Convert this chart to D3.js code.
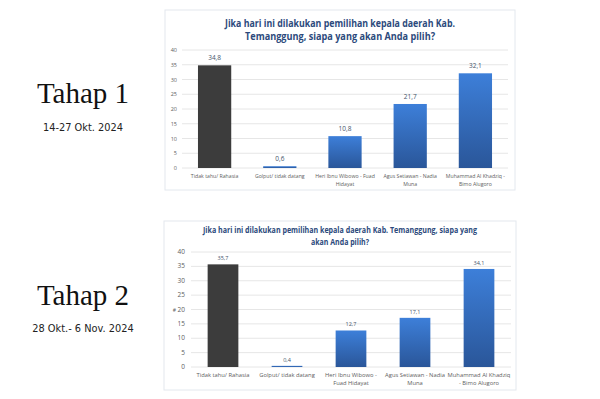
<!DOCTYPE html>
<html>
<head>
<meta charset="utf-8">
<script src="https://cdn.jsdelivr.net/npm/d3@7"></script>
<style>
  body { margin: 0; background: #fff; }
  svg { display: block; }
</style>
</head>
<body>
<div id="chart"></div>
<script>
// data
var cats1 = ["Tidak tahu/ Rahasia", "Golput/ tidak datang", "Heri Ibnu Wibowo - Fuad|Hidayat", "Agus Setiawan - Nadia|Muna", "Muhammad Al Khadziq -|Bimo Alugoro"];
var cats2 = ["Tidak tahu/ Rahasia", "Golput/ tidak datang", "Heri Ibnu Wibowo -|Fuad Hidayat", "Agus Setiawan - Nadia|Muna", "Muhammad Al Khadziq|- Bimo Alugoro"];
var tahap1 = [34.8, 0.6, 10.8, 21.7, 32.1];
var tahap2 = [35.7, 0.4, 12.7, 17.1, 34.1];
var yTicks = [0, 5, 10, 15, 20, 25, 30, 35, 40];
var title1 = ["Jika hari ini dilakukan pemilihan kepala daerah Kab.", "Temanggung, siapa yang akan Anda pilih?"];
var title2 = ["Jika hari ini dilakukan pemilihan kepala daerah Kab. Temanggung, siapa yang", "akan Anda pilih?"];

var svg = d3.select("#chart").append("svg")
    .attr("width", 600)
    .attr("height", 399);

var defs = svg.append("defs");
var grad = defs.append("linearGradient")
    .attr("id", "blueGrad")
    .attr("x1", 0).attr("y1", 0).attr("x2", 0).attr("y2", 1);
grad.append("stop").attr("offset", "0%").attr("stop-color", "#3d7fd9");
grad.append("stop").attr("offset", "100%").attr("stop-color", "#2a5699");

function drawPanel(o) {
    var g = svg.append("g");

    g.append("rect")
        .attr("x", o.box[0]).attr("y", o.box[1])
        .attr("width", o.box[2]).attr("height", o.box[3])
        .attr("fill", "#fff")
        .attr("stroke", "#e3e8ee");

    // title
    g.selectAll(".title")
        .data(o.title)
        .enter().append("text")
        .attr("x", 340)
        .attr("y", function(d, i) { return o.titleY[i]; })
        .attr("text-anchor", "middle")
        .attr("font-family", "'Open Sans', sans-serif")
        .attr("font-weight", "bold")
        .attr("font-size", o.titleSize)
        .attr("fill", "#2c4a7c")
        .attr("textLength", function(d, i) { return o.titleLen[i]; })
        .attr("lengthAdjust", "spacingAndGlyphs")
        .text(function(d) { return d; });

    var y = d3.scaleLinear().domain([0, 40]).range([o.y0, o.y40]);
    var x = d3.scaleBand().domain(o.cats).range(o.xr).paddingInner(o.pad).paddingOuter(o.pad / 2);

    // grid
    g.selectAll(".grid")
        .data(yTicks)
        .enter().append("line")
        .attr("x1", o.xr[0]).attr("x2", o.xr[1])
        .attr("y1", function(d) { return y(d); })
        .attr("y2", function(d) { return y(d); })
        .attr("stroke", "#e6e6e6")
        .attr("stroke-width", 1);

    // y labels
    g.selectAll(".ylab")
        .data(yTicks)
        .enter().append("text")
        .attr("x", o.yLabX)
        .attr("y", function(d) { return y(d) + 2; })
        .attr("text-anchor", "end")
        .attr("font-family", "'Open Sans', sans-serif")
        .attr("font-size", o.tickSize)
        .attr("fill", "#606060")
        .text(function(d) { return d; });

    // bars
    g.selectAll(".bar")
        .data(o.values)
        .enter().append("rect")
        .attr("x", function(d, i) { return x(o.cats[i]); })
        .attr("width", x.bandwidth())
        .attr("y", function(d) { return y(d); })
        .attr("height", function(d) { return y(0) - y(d); })
        .attr("fill", function(d, i) { return i == 0 ? "#3c3c3c" : "url(#blueGrad)"; });

    // value labels
    g.selectAll(".val")
        .data(o.values)
        .enter().append("text")
        .attr("x", function(d, i) { return x(o.cats[i]) + x.bandwidth() / 2; })
        .attr("y", function(d) { return y(d) - o.valGap; })
        .attr("text-anchor", "middle")
        .attr("font-family", "'Open Sans', sans-serif")
        .attr("font-size", o.valSize)
        .attr("fill", "#44546a")
        .text(function(d) { return String(d).replace(".", ","); });

    // category labels
    var cl = g.selectAll(".cat")
        .data(o.cats)
        .enter().append("text")
        .attr("text-anchor", "middle")
        .attr("font-family", "'Open Sans', sans-serif")
        .attr("font-size", o.catSize)
        .attr("fill", "#606060");
    cl.each(function(d) {
        var t = d3.select(this);
        d.split("|").forEach(function(line, k) {
            t.append("tspan")
                .attr("x", x(d) + x.bandwidth() / 2)
                .attr("y", o.catY + k * o.catLine)
                .text(line);
        });
    });
    return y;
}

drawPanel({
    box: [165, 10, 350, 180],
    title: title1, titleY: [26.5, 39.5], titleSize: 10, titleLen: [230, 190],
    cats: cats1, values: tahap1,
    y0: 168, y40: 50, xr: [182, 508], pad: 0.49,
    yLabX: 177, tickSize: 5.5,
    valSize: 6.5, valGap: 5,
    catSize: 5.2, catY: 178, catLine: 8
});

var y2 = drawPanel({
    box: [164, 221, 352, 169],
    title: title2, titleY: [233, 244.5], titleSize: 8.3, titleLen: [274, 58],
    cats: cats2, values: tahap2,
    y0: 367, y40: 252, xr: [191, 511], pad: 0.52,
    yLabX: 185, tickSize: 6.5,
    valSize: 5.5, valGap: 4,
    catSize: 5.8, catY: 377, catLine: 8
});

// stray mark left of "20" in the second chart
svg.append("text")
    .attr("x", 176).attr("y", y2(20) + 2)
    .attr("text-anchor", "end")
    .attr("font-family", "'Open Sans', sans-serif")
    .attr("font-size", 5)
    .attr("fill", "#606060")
    .text("#");

// left side headings
var heads = [
    { big: "Tahap 1", small: "14-27 Okt. 2024", yb: 103, ys: 131 },
    { big: "Tahap 2", small: "28 Okt.- 6 Nov. 2024", yb: 305, ys: 332 }
];
svg.selectAll(".big")
    .data(heads)
    .enter().append("text")
    .attr("x", 83)
    .attr("y", function(d) { return d.yb; })
    .attr("text-anchor", "middle")
    .attr("font-family", "'Liberation Serif', 'DejaVu Serif', serif")
    .attr("font-size", 29)
    .attr("fill", "#111")
    .text(function(d) { return d.big; });
svg.selectAll(".small")
    .data(heads)
    .enter().append("text")
    .attr("x", 83)
    .attr("y", function(d) { return d.ys; })
    .attr("text-anchor", "middle")
    .attr("font-family", "'DejaVu Sans', sans-serif")
    .attr("font-size", 9.8)
    .attr("fill", "#222")
    .text(function(d) { return d.small; });
</script>
</body>
</html>
